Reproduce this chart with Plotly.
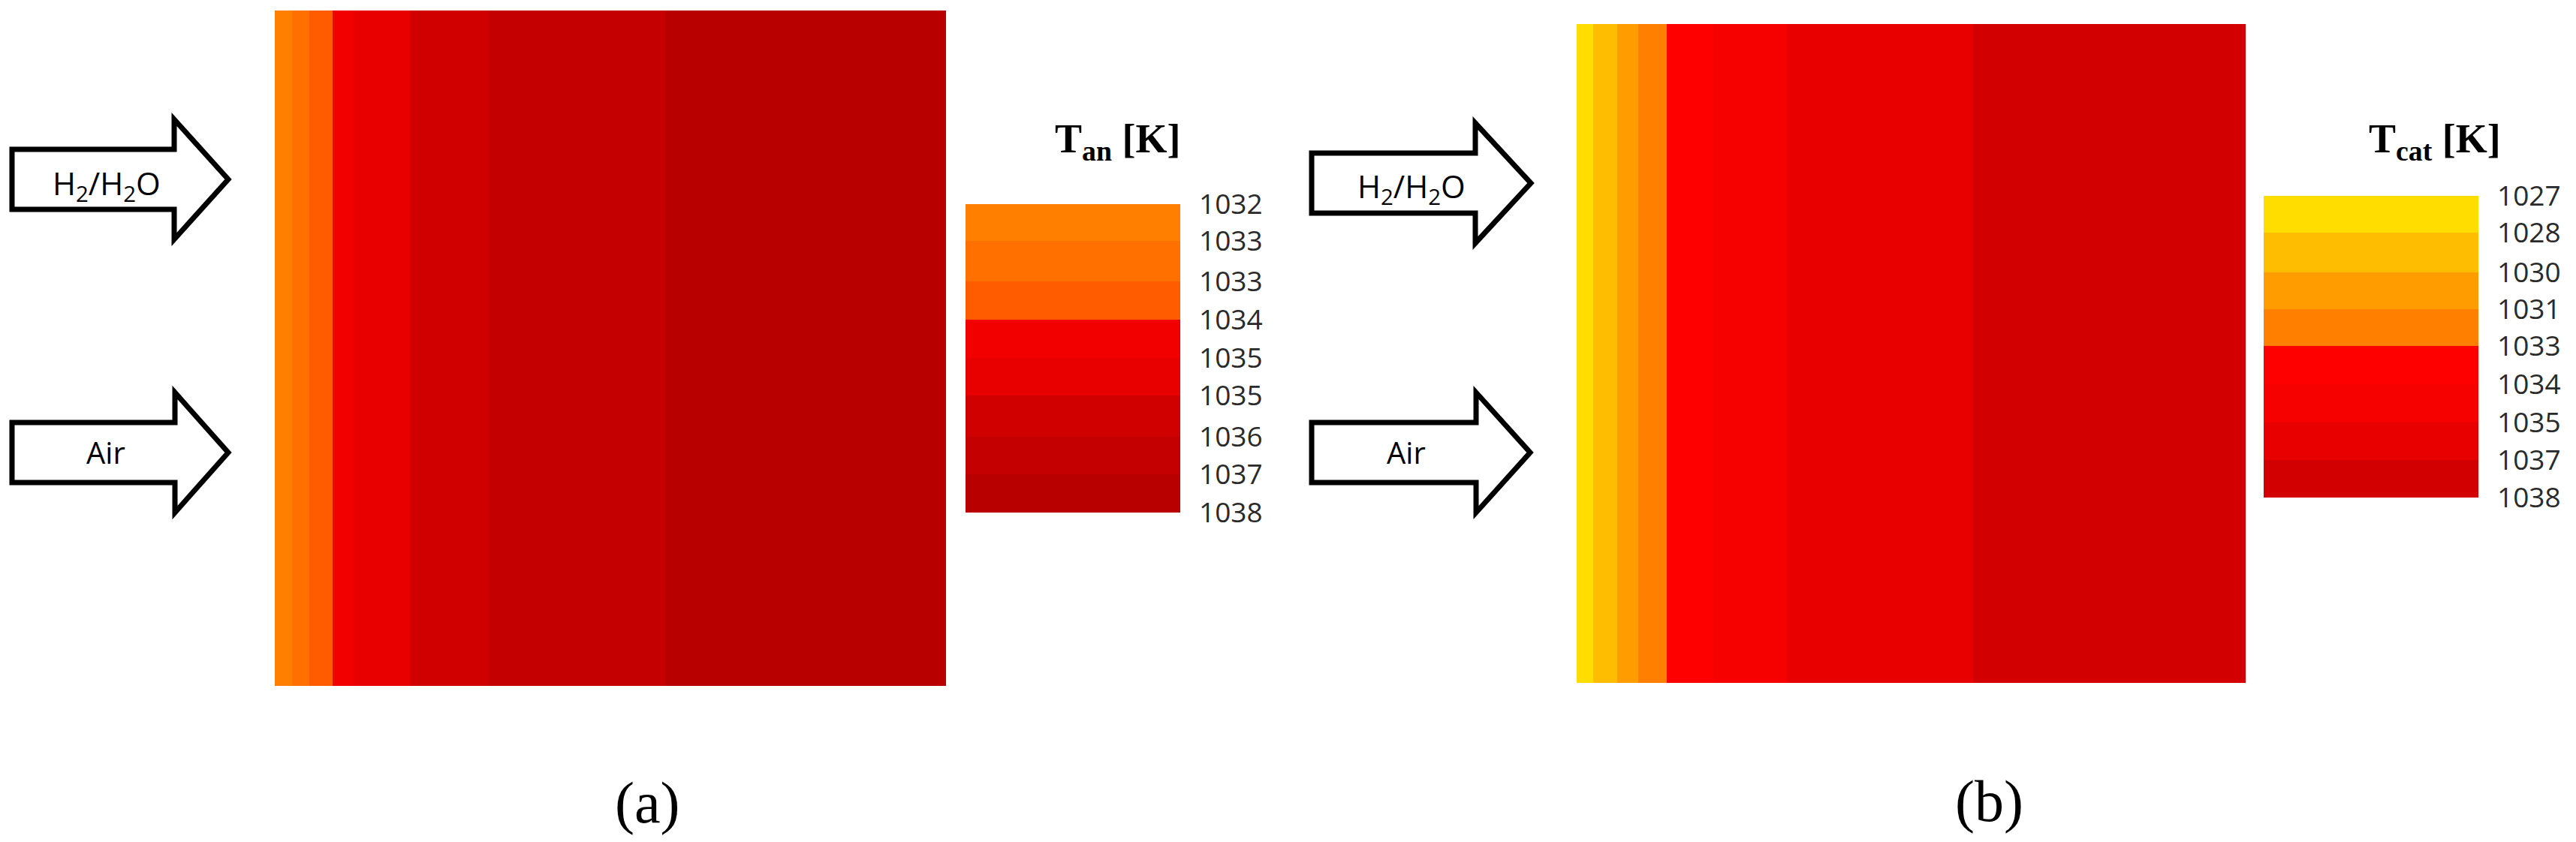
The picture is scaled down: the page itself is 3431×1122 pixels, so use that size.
import plotly.graph_objects as go

W, H = 3431, 1122

# (a) anode: distance along the cell (normalised) and temperature band of each stripe
x_edges_an = [0, 0.026, 0.052, 0.086, 0.118, 0.201, 0.318, 0.582, 1]
bands_an = [0, 1, 2, 3, 4, 5, 6, 7]
colors_an = ["#ff8000", "#ff7000", "#ff5c00", "#f20000", "#e80000", "#d00000", "#c40000", "#b80000"]
bar_edges_an = [0, 0.119, 0.251, 0.375, 0.499, 0.620, 0.754, 0.876, 1]
labels_an = ["1032", "1033", "1033", "1034", "1035", "1035", "1036", "1037", "1038"]

# (b) cathode
x_edges_cat = [0, 0.025, 0.061, 0.092, 0.135, 0.204, 0.314, 0.593, 1]
bands_cat = [0, 1, 2, 3, 4, 5, 6, 7]
colors_cat = ["#ffdd00", "#ffbd00", "#ff9d00", "#ff8000", "#ff0000", "#f60000", "#e80000", "#d20000"]
bar_edges_cat = [0, 0.122, 0.254, 0.376, 0.498, 0.625, 0.751, 0.876, 1]
labels_cat = ["1027", "1028", "1030", "1031", "1033", "1034", "1035", "1037", "1038"]


def px(x):
    return x / W


def py(y):
    return 1 - y / H


def discrete_scale(colors):
    return [[i / (len(colors) - 1), c] for i, c in enumerate(colors)]


def arrow_path(left, shaft_right, tip, cy, shaft_half, head_half):
    pts = [(left, cy - shaft_half), (shaft_right, cy - shaft_half), (shaft_right, cy - head_half),
           (tip, cy), (shaft_right, cy + head_half), (shaft_right, cy + shaft_half), (left, cy + shaft_half)]
    return "M " + " L ".join(f"{px(a):.5f},{py(b):.5f}" for a, b in pts) + " Z"


fig = go.Figure()

# main maps
fig.add_trace(go.Heatmap(x=x_edges_an, y=[0, 1], z=[bands_an], zmin=0, zmax=7,
                         colorscale=discrete_scale(colors_an), showscale=False,
                         xaxis="x", yaxis="y"))
fig.add_trace(go.Heatmap(x=x_edges_cat, y=[0, 1], z=[bands_cat], zmin=0, zmax=7,
                         colorscale=discrete_scale(colors_cat), showscale=False,
                         xaxis="x3", yaxis="y3"))

# colour keys
fig.add_trace(go.Heatmap(x=[0, 1], y=bar_edges_an, z=[[b] for b in bands_an], zmin=0, zmax=7,
                         colorscale=discrete_scale(colors_an), showscale=False,
                         xaxis="x2", yaxis="y2"))
fig.add_trace(go.Heatmap(x=[0, 1], y=bar_edges_cat, z=[[b] for b in bands_cat], zmin=0, zmax=7,
                         colorscale=discrete_scale(colors_cat), showscale=False,
                         xaxis="x4", yaxis="y4"))

hidden = dict(visible=False, range=[0, 1], fixedrange=True, automargin=False)
tick_font = dict(family="Open Sans", size=37, color="#2a2a2a")


def key_axis(edges, labels, anchor, y0, y1):
    return dict(domain=[py(y1), py(y0)], range=[1, 0], anchor=anchor, side="right", automargin=False,
                tickvals=edges, ticktext=labels, tickfont=tick_font, ticks="",
                ticklabelstandoff=24, showgrid=False, zeroline=False, showline=False)


fig.update_layout(
    width=W, height=H, margin=dict(l=0, r=0, t=0, b=0),
    paper_bgcolor="white", plot_bgcolor="white", showlegend=False,
    xaxis=dict(hidden, domain=[px(366), px(1260)], anchor="y"),
    yaxis=dict(hidden, domain=[py(914), py(14)], anchor="x"),
    xaxis2=dict(hidden, domain=[px(1286), px(1572)], anchor="y2"),
    yaxis2=key_axis(bar_edges_an, labels_an, "x2", 272, 683),
    xaxis3=dict(hidden, domain=[px(2100), px(2991)], anchor="y3"),
    yaxis3=dict(hidden, domain=[py(910), py(32)], anchor="x3"),
    xaxis4=dict(hidden, domain=[px(3015), px(3301)], anchor="y4"),
    yaxis4=key_axis(bar_edges_cat, labels_cat, "x4", 261, 663),
)

# inlet arrows
for left, shaft_right, tip, cy in [(16, 232, 304, 239), (16, 233, 304, 603),
                                   (1747, 1965, 2039, 244), (1747, 1966, 2038, 603)]:
    fig.add_shape(type="path", xref="paper", yref="paper", line=dict(color="black", width=7),
                  fillcolor="white", path=arrow_path(left, shaft_right, tip, cy, 40, 80))


def label(text, x, y, family, size, color="black"):
    fig.add_annotation(text=text, x=px(x), y=py(y), xref="paper", yref="paper", showarrow=False,
                       xanchor="center", yanchor="middle", font=dict(family=family, size=size, color=color))


arrow_font = "Open Sans"
label("H<sub>2</sub>/H<sub>2</sub>O", 142, 246, arrow_font, 42)
label("Air", 141, 602, arrow_font, 40)
label("H<sub>2</sub>/H<sub>2</sub>O", 1880, 251, arrow_font, 42)
label("Air", 1873, 602, arrow_font, 40)

label("<b>T<sub>an</sub> [K]</b>", 1488, 188, "Liberation Serif", 54)
label("<b>T<sub>cat</sub> [K]</b>", 3243, 188, "Liberation Serif", 54)
label("(a)", 862, 1069, "Liberation Serif", 78)
label("(b)", 2649, 1067, "Liberation Serif", 78)

fig.write_html("out.html", config=dict(displayModeBar=False),
               post_script="document.body.style.margin='0';")
